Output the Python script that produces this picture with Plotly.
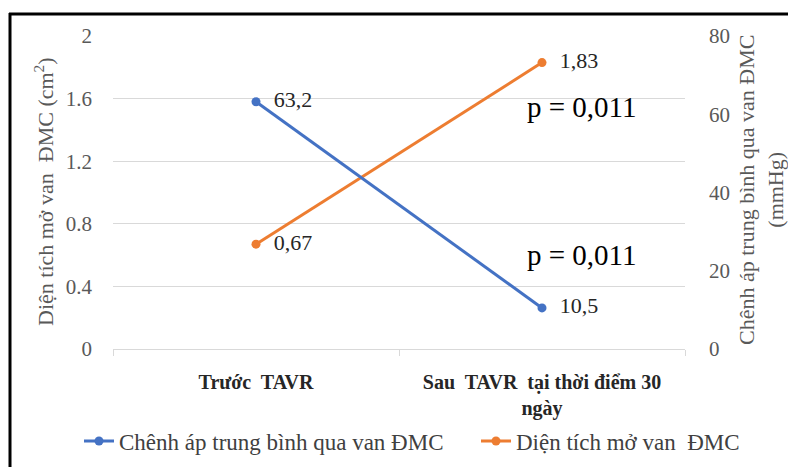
import plotly.graph_objects as go

categories = ["Trước  TAVR", "Sau  TAVR  tại thời điểm 30<br>ngày"]
pressure_gradient = [63.2, 10.5]      # mmHg, right axis
pressure_labels = ["63,2", "10,5"]
valve_area = [0.67, 1.83]             # cm2, left axis
area_labels = ["0,67", "1,83"]
left_ticks = [0, 0.4, 0.8, 1.2, 1.6, 2]
left_ticktext = ["0", "0.4", "0.8", "1.2", "1.6", "2"]
right_ticks = [0, 20, 40, 60, 80]
p_values = ["p = 0,011", "p = 0,011"]

W, H = 796, 467
OFF = 8  # page body margin
PL, PT, PW, PH = 113, 36, 572, 313  # plot area in page pixels
L, T = PL - OFF, PT - OFF
R, B = W - L - PW, H - T - PH


def px(x):
    return (x - PL) / PW


def py(y):
    return (PT + PH - y) / PH


FONT = "Liberation Serif"
BLUE = "#4472C4"
ORANGE = "#ED7D31"
GRAY = "#595959"

fig = go.Figure()
fig.add_trace(go.Scatter(
    x=categories, y=pressure_gradient, yaxis="y2", mode="lines+markers+text",
    name="Chênh áp trung bình qua van ĐMC", legend="legend",
    line=dict(color=BLUE, width=3), marker=dict(size=9, color=BLUE),
    text=["  " + t for t in pressure_labels], textposition="middle right",
    textfont=dict(family=FONT, size=22, color="#262626"),
))
fig.add_trace(go.Scatter(
    x=categories, y=valve_area, yaxis="y", mode="lines+markers+text",
    name="Diện tích mở van  ĐMC", legend="legend2",
    line=dict(color=ORANGE, width=3), marker=dict(size=9, color=ORANGE),
    text=["  " + t for t in area_labels], textposition="middle right",
    textfont=dict(family=FONT, size=22, color="#262626"),
))

annotations = [
    dict(text=p_values[0], x=px(582), y=py(107), xref="paper", yref="paper",
         xanchor="center", yanchor="middle",
         showarrow=False, font=dict(family=FONT, size=29, color="#000000")),
    dict(text=p_values[1], x=px(582), y=py(255), xref="paper", yref="paper",
         xanchor="center", yanchor="middle",
         showarrow=False, font=dict(family=FONT, size=29, color="#000000")),
    dict(text="Diện tích mở van  ĐMC (cm<sup>2</sup>)", textangle=-90,
         x=px(44), y=py(192), xref="paper", yref="paper", showarrow=False,
         xanchor="center", yanchor="middle",
         font=dict(family=FONT, size=22, color=GRAY)),
    dict(text="Chênh áp trung bình qua van ĐMC<br>(mmHg)", textangle=-90,
         x=px(761), y=py(190), xref="paper", yref="paper", showarrow=False,
         xanchor="center", yanchor="middle",
         font=dict(family=FONT, size=22, color=GRAY)),
]

shapes = [
    dict(type="line", xref="paper", yref="paper", x0=px(10), x1=px(10),
         y0=py(13), y1=py(475), line=dict(color="black", width=3)),
    dict(type="line", xref="paper", yref="paper", x0=px(9), x1=px(805),
         y0=py(14), y1=py(14), line=dict(color="black", width=3)),
]

legend_common = dict(orientation="h", xanchor="left", yanchor="middle",
                     font=dict(family=FONT, size=23, color="#404040"),
                     bgcolor="rgba(0,0,0,0)")

fig.update_layout(
    width=W, height=H,
    margin=dict(l=L, r=R, t=T, b=B, autoexpand=False),
    paper_bgcolor="white", plot_bgcolor="white",
    font=dict(family=FONT, size=20, color=GRAY),
    showlegend=True,
    legend=dict(x=px(79), y=py(441), **legend_common),
    legend2=dict(x=px(476), y=py(441), **legend_common),
    xaxis=dict(type="category", range=[-0.5, 1.5], showgrid=False,
               showline=True, linecolor="#d9d9d9", linewidth=1,
               ticks="outside", ticklen=6, tickcolor="#d9d9d9", tickson="boundaries",
               tickfont=dict(family=FONT, size=20, color="#262626", weight="bold"),
               ticklabelstandoff=15),
    yaxis=dict(range=[0, 2], tickvals=left_ticks, ticktext=left_ticktext,
               showgrid=True, gridcolor="#d9d9d9", zeroline=False,
               showline=False, ticks="", ticklabelstandoff=20,
               tickfont=dict(family=FONT, size=21, color=GRAY)),
    yaxis2=dict(range=[0, 80], tickvals=right_ticks, overlaying="y", side="right",
                showgrid=False, zeroline=False, showline=False, ticks="",
                ticklabelstandoff=23,
                tickfont=dict(family=FONT, size=21, color=GRAY)),
    annotations=annotations,
    shapes=shapes,
)

fig.write_html("out.html")
